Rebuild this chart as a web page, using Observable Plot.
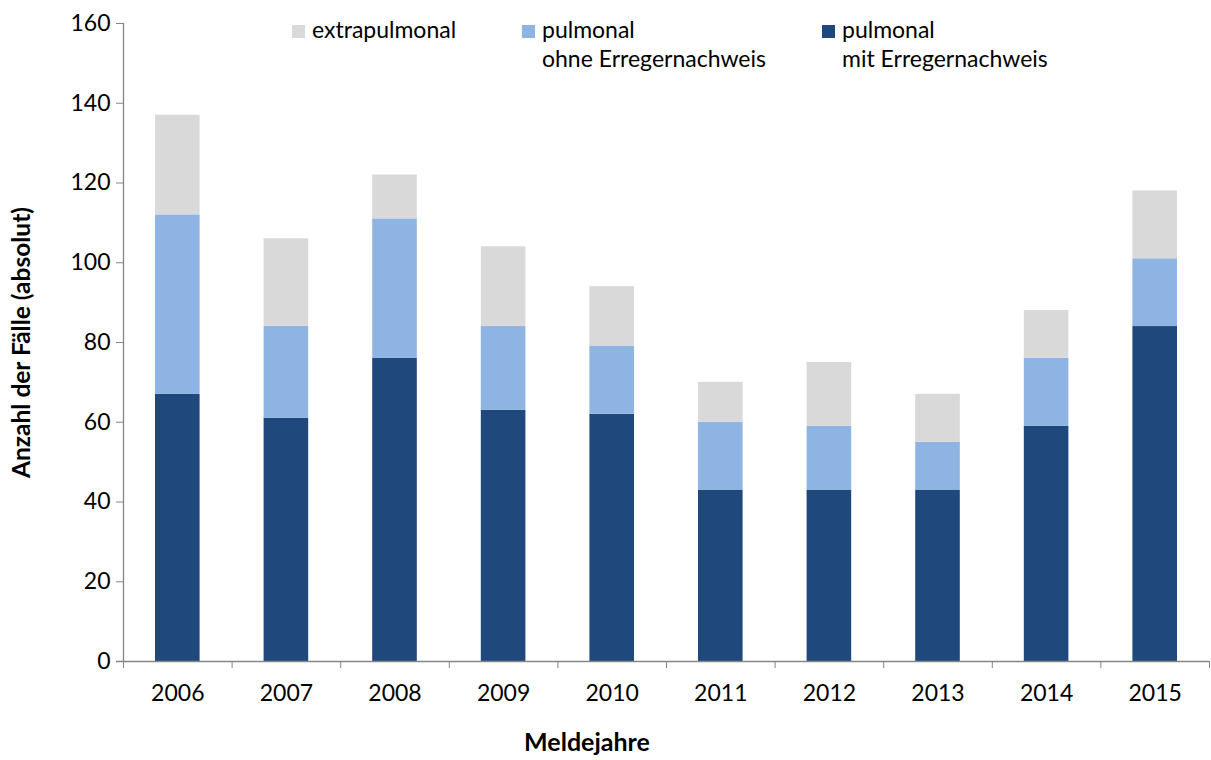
<!DOCTYPE html>
<html>
<head>
<meta charset="utf-8">
<script src="https://cdn.jsdelivr.net/npm/d3@7"></script>
<script src="https://cdn.jsdelivr.net/npm/@observablehq/plot@0.6"></script>
<style>
  body { margin: 0; background: #fff; font-family: Lato, "Open Sans", sans-serif; }
  #wrap { position: relative; width: 1211px; height: 760px; }
  .leg { position: absolute; font-size: 23px; line-height: 29px; color: #000; white-space: nowrap; }
  .sw { position: absolute; width: 13px; height: 13px; }
  #xlab { position: absolute; font-size: 25px; font-weight: bold; line-height: 29px; transform: translateX(-50%); white-space: nowrap; }
  g[aria-label="y-axis label"] text { font-weight: bold; font-size: 24.5px; }
</style>
</head>
<body>
<div id="wrap"></div>
<script>
const years = [2006, 2007, 2008, 2009, 2010, 2011, 2012, 2013, 2014, 2015];
const mitErreger  = [67, 61, 76, 63, 62, 43, 43, 43, 59, 84];
const ohneErreger = [45, 23, 35, 21, 17, 17, 16, 12, 17, 17];
const extrapulmonal = [25, 22, 11, 20, 15, 10, 16, 12, 12, 17];
const seriesNames = ["pulmonal mit Erregernachweis", "pulmonal ohne Erregernachweis", "extrapulmonal"];
const seriesColors = ["#1f497d", "#8eb4e3", "#d9d9d9"];
const yTicks = [0, 20, 40, 60, 80, 100, 120, 140, 160];

const data = [];
years.forEach((yr, i) => {
  data.push({year: yr, series: seriesNames[0], value: mitErreger[i]});
  data.push({year: yr, series: seriesNames[1], value: ohneErreger[i]});
  data.push({year: yr, series: seriesNames[2], value: extrapulmonal[i]});
});
const xMin = years[0] - 0.5, xMax = years[years.length - 1] + 0.5;
const edges = years.map(y => y - 0.5).concat([xMax]);
const axisColor = "#868686";

const chart = Plot.plot({
  width: 1211,
  height: 760,
  marginTop: 23,
  marginBottom: 99,
  marginLeft: 123,
  marginRight: 2,
  style: {fontFamily: "Lato, 'Open Sans', sans-serif", fontSize: "23px", color: "#000", background: "#fff"},
  x: {type: "linear", domain: [xMin, xMax]},
  y: {domain: [0, 160]},
  color: {domain: seriesNames, range: seriesColors},
  marks: [
    Plot.rectY(data, Plot.stackY({
      x1: d => d.year - 0.5,
      x2: d => d.year + 0.5,
      y: "value",
      fill: "series",
      insetLeft: 32,
      insetRight: 32,
      order: null
    })),
    Plot.ruleY([0], {stroke: axisColor, strokeWidth: 1.3, insetLeft: -7}),
    Plot.ruleX([xMin], {y1: 0, y2: 160, stroke: axisColor, strokeWidth: 1.3}),
    Plot.axisY({
      ticks: yTicks, tickSize: 7, tickPadding: 6, stroke: axisColor, fill: "#000",
      label: "Anzahl der Fälle (absolut)", labelAnchor: "center", labelOffset: 111, labelArrow: "none"
    }),
    Plot.axisX({ticks: edges, tickSize: 7, tickFormat: () => "", stroke: axisColor, label: null}),
    Plot.axisX({ticks: years, tickSize: 0, tickPadding: 23, tickFormat: d => String(d), fill: "#000", label: null})
  ]
});

const wrap = document.getElementById("wrap");
wrap.appendChild(chart);

// Legend (HTML overlay)
const legendItems = [
  {name: "extrapulmonal", lines: ["extrapulmonal"], color: seriesColors[2], left: 292},
  {name: "ohne", lines: ["pulmonal", "ohne Erregernachweis"], color: seriesColors[1], left: 522},
  {name: "mit", lines: ["pulmonal", "mit Erregernachweis"], color: seriesColors[0], left: 822}
];
legendItems.forEach(it => {
  const sw = document.createElement("div");
  sw.className = "sw";
  sw.style.left = it.left + "px";
  sw.style.top = "25px";
  sw.style.background = it.color;
  wrap.appendChild(sw);
  const t = document.createElement("div");
  t.className = "leg";
  t.style.left = (it.left + 20) + "px";
  t.style.top = "15px";
  t.innerHTML = it.lines.join("<br>");
  wrap.appendChild(t);
});

const xl = document.createElement("div");
xl.id = "xlab";
xl.style.left = "587px";
xl.style.top = "727px";
xl.textContent = "Meldejahre";
wrap.appendChild(xl);
</script>
</body>
</html>
